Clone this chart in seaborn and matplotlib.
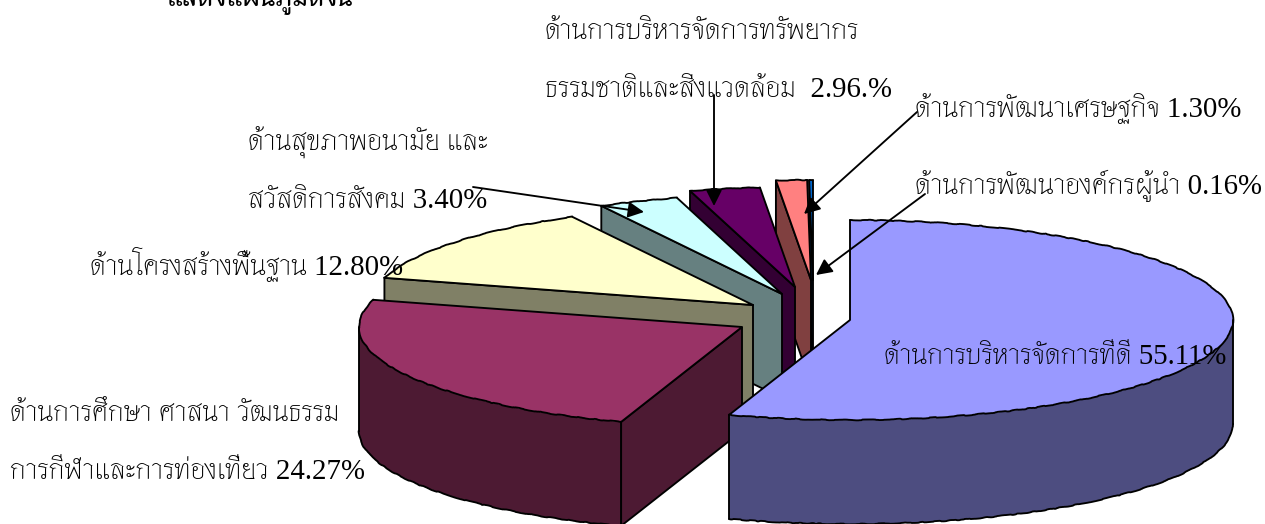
import numpy as np
import matplotlib
matplotlib.use("Agg")
import matplotlib.pyplot as plt
import seaborn as sns

# percentages, clockwise from 12 o'clock
shares = [55.11, 24.27, 12.80, 3.40, 2.96, 1.30, 0.16]
top_colors = ["#9999FF", "#993366", "#FFFFCC", "#CCFFFF", "#660066", "#FF8080", "#0066CC"]
side_colors = ["#4D4D80", "#4D1A33", "#808066", "#668080", "#330033", "#804040", "#003366"]

label_lines = [
    "ด้านการบริหารจัดการทรัพยากร",
    "ธรรมชาติและสิ่งแวดล้อม  2.96.%",
    "ด้านการพัฒนาเศรษฐกิจ 1.30%",
    "ด้านการพัฒนาองค์กรผู้นำ 0.16%",
    "ด้านสุขภาพอนามัย และ",
    "สวัสดิการสังคม 3.40%",
    "ด้านโครงสร้างพื้นฐาน 12.80%",
    "ด้านการบริหารจัดการที่ดี 55.11%",
    "ด้านการศึกษา ศาสนา วัฒนธรรม",
    "การกีฬาและการท่องเที่ยว 24.27%",
]
label_x = [545, 545, 915, 915, 248, 248, 90, 884, 10, 10]
label_y = [39, 97, 117, 194, 151, 208, 275, 364, 421, 479]

# pie layout in pixels
center = (812, 312)
rx, ry, depth = 383, 100, 104
shift_x = [38, -70, -59, -30, -17, -1, 1]
shift_y = [8, 15, -7, -18, -25, -32, -32]

sns.set_theme(style="white")
plt.rcParams["font.family"] = ["Liberation Serif", "Thasadith"]

fig = plt.figure(figsize=(12.65, 5.24), dpi=100)
ax = fig.add_axes([0, 0, 1, 1])
ax.set_xlim(0, 1265)
ax.set_ylim(524, 0)
ax.axis("off")

tops = sns.color_palette(top_colors)
sides = sns.color_palette(side_colors)
edges = np.cumsum([0] + shares) * 3.6
LW = 1.35


def rim(cx, cy, a, b):
    t = np.radians(np.linspace(a, b, max(int(b - a) * 2, 2)))
    return cx + rx * np.sin(t), cy - ry * np.cos(t)


def wavy(x, y):
    # the rims of the reference are a bit scalloped
    ln, = ax.plot(x, y, color="black", lw=LW)
    ln.set_sketch_params(0.4, 45, 12)


def draw_slice(i):
    a, b = edges[i], edges[i + 1]
    cx, cy = center[0] + shift_x[i], center[1] + shift_y[i]
    line = dict(color="black", lw=LW, solid_joinstyle="round")

    # radial cut face, only those turned towards the viewer
    if 180 < a < 360:
        x, y = rim(cx, cy, a, a)
        ax.fill([cx, x[0], x[0], cx], [cy, y[0], y[0] + depth, cy + depth],
                facecolor=sides[i], edgecolor="black", lw=LW)

    # outer wall, front half only
    lo, hi = max(a, 90), min(b, 270)
    if lo < hi:
        x, y = rim(cx, cy, lo, hi)
        ax.fill(np.r_[x, x[::-1]], np.r_[y, y[::-1] + depth], facecolor=sides[i], lw=0)
        wavy(x, y + depth)
        ax.plot([x[0], x[0]], [y[0], y[0] + depth], **line)
        ax.plot([x[-1], x[-1]], [y[-1], y[-1] + depth], **line)

    # top of the slice
    x, y = rim(cx, cy, a, b)
    ax.fill(np.r_[cx, x], np.r_[cy, y], facecolor=tops[i], lw=0)
    wavy(x, y)
    ax.plot([x[0], cx, x[-1]], [y[0], cy, y[-1]], **line)


# back to front, the big slice sits over everything
for i in [6, 5, 4, 3, 2, 1, 0]:
    draw_slice(i)

for txt, x, y in zip(label_lines, label_x, label_y):
    ax.text(x, y, txt, fontsize=20.8, color="black", ha="left", va="baseline", zorder=6)

ax.text(167, 6, "แสดงแผนภูมิดังนี้", fontsize=20, fontweight="bold", color="black",
        ha="left", va="baseline", zorder=6)

# leader arrows
arrows = [((714, 95), (714, 206)), ((917, 112), (804, 214)),
          ((925, 194), (816, 275)), ((473, 187), (644, 212))]
for tail, head in arrows:
    ax.annotate("", xy=head, xytext=tail, zorder=5,
                arrowprops=dict(arrowstyle="-|>", color="black", lw=LW, mutation_scale=24,
                                shrinkA=0, shrinkB=0))

fig.savefig("out.png", dpi=100)
